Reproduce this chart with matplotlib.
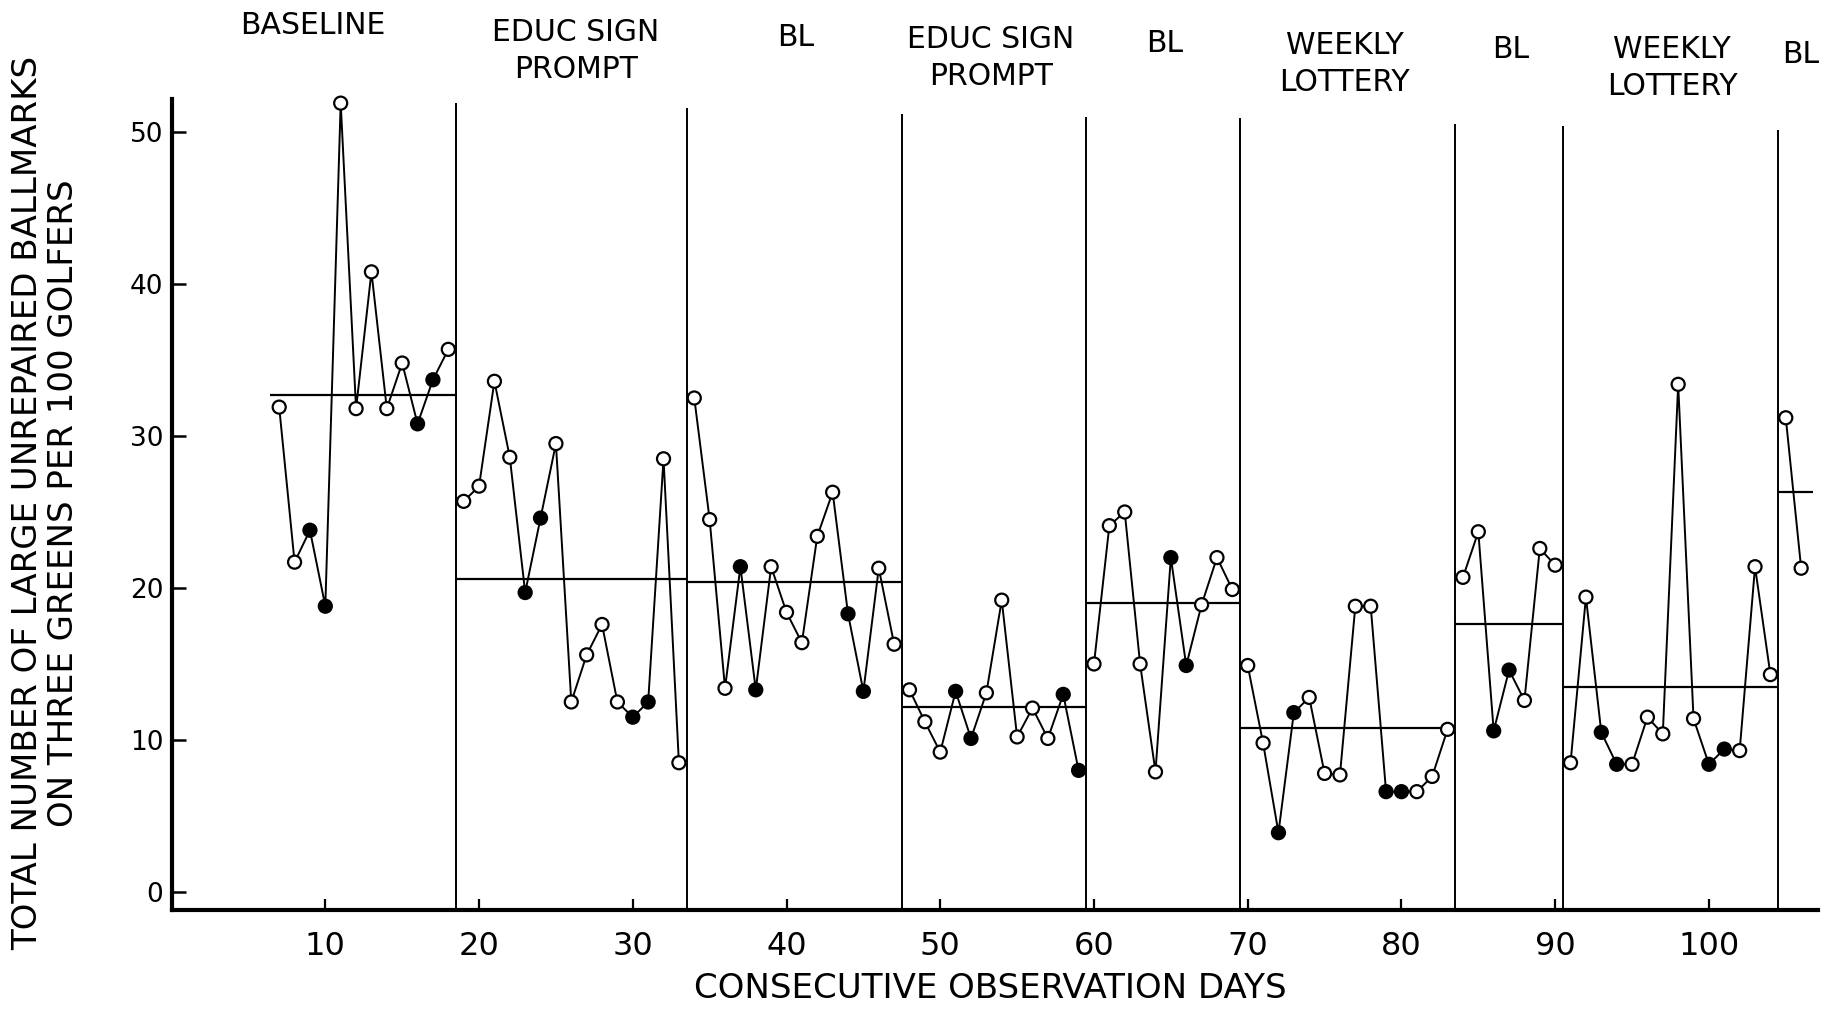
import matplotlib
matplotlib.use("Agg")
import matplotlib.pyplot as plt
import numpy as np

plt.rcParams["font.family"] = ["DejaVu Sans"]

# ---------------- data ----------------
phase_labels = ["BASELINE", "EDUC SIGN\nPROMPT", "BL", "EDUC SIGN\nPROMPT", "BL",
                "WEEKLY\nLOTTERY", "BL", "WEEKLY\nLOTTERY", "BL"]
phase_first_days = [7, 19, 34, 48, 60, 70, 84, 91, 105]
baseline_1 = [31.9, 21.7, 23.8, 18.8, 51.9, 31.8, 40.8, 31.8, 34.8, 30.8, 33.7, 35.7]
educ_sign_1 = [25.7, 26.7, 33.6, 28.6, 19.7, 24.6, 29.5, 12.5, 15.6, 17.6, 12.5, 11.5,
               12.5, 28.5, 8.5]
baseline_2 = [32.5, 24.5, 13.4, 21.4, 13.3, 21.4, 18.4, 16.4, 23.4, 26.3, 18.3, 13.2,
              21.3, 16.3]
educ_sign_2 = [13.3, 11.2, 9.2, 13.2, 10.1, 13.1, 19.2, 10.2, 12.1, 10.1, 13.0, 8.0]
baseline_3 = [15.0, 24.1, 25.0, 15.0, 7.9, 22.0, 14.9, 18.9, 22.0, 19.9]
lottery_1 = [14.9, 9.8, 3.9, 11.8, 12.8, 7.8, 7.7, 18.8, 18.8, 6.6, 6.6, 6.6, 7.6, 10.7]
baseline_4 = [20.7, 23.7, 10.6, 14.6, 12.6, 22.6, 21.5]
lottery_2 = [8.5, 19.4, 10.5, 8.4, 8.4, 11.5, 10.4, 33.4, 11.4, 8.4, 9.4, 9.3, 21.4, 14.3]
baseline_5 = [31.2, 21.3]
phase_values = [baseline_1, educ_sign_1, baseline_2, educ_sign_2, baseline_3,
                lottery_1, baseline_4, lottery_2, baseline_5]
phase_means = [32.7, 20.6, 20.4, 12.2, 19.0, 10.8, 17.6, 13.5, 26.3]
filled_days = [9, 10, 16, 17, 23, 24, 30, 31, 37, 38, 44, 45, 51, 52, 58, 59,
               65, 66, 72, 73, 79, 80, 86, 87, 93, 94, 100, 101]
x_ticks = [10, 20, 30, 40, 50, 60, 70, 80, 90, 100]
y_ticks = [0, 10, 20, 30, 40, 50]

# ---------------- layout ----------------
phase_line_tops = [51.9, 51.6, 51.2, 51.0, 50.9, 50.5, 50.4, 50.1]
header_x = [9.2, 26.3, 40.6, 53.3, 64.6, 76.3, 87.1, 97.6, 106.0]
header_y = [57.0, 55.35, 56.2, 54.9, 55.8, 54.5, 55.4, 54.2, 55.1]
Y_BOTTOM, Y_TOP = -1.2, 52.2
X_LEFT, X_RIGHT = 0.0, 107.1

fig = plt.figure(figsize=(18.45, 10.11), dpi=100)
ax = fig.add_axes([0.093, 0.0997, 0.8924, 0.8028])
ax.set_xlim(X_LEFT, X_RIGHT)
ax.set_ylim(Y_BOTTOM, Y_TOP)

for s in ["top", "right"]:
    ax.spines[s].set_visible(False)
for s in ["left", "bottom"]:
    ax.spines[s].set_linewidth(3.0)
    ax.spines[s].set_color("black")

# phase change lines
boundaries = [d - 0.5 for d in phase_first_days[1:]]
ax.vlines(boundaries, Y_BOTTOM, phase_line_tops, colors="black", linewidth=1.4, zorder=2)

# mean lines
last_days = [f + len(v) - 1 for f, v in zip(phase_first_days, phase_values)]
starts = [phase_first_days[0] - 0.6] + boundaries
ends = boundaries + [last_days[-1] + 0.75]
ax.hlines(phase_means, starts, ends, colors="black", linewidth=1.6, zorder=2)

# data
for first, vals in zip(phase_first_days, phase_values):
    days = np.arange(first, first + len(vals))
    ax.plot(days, vals, color="black", lw=1.4, zorder=3, clip_on=False)
    faces = ["black" if d in filled_days else "white" for d in days]
    ax.scatter(days, vals, s=88, facecolors=faces, edgecolors="black",
               linewidths=1.6, zorder=4, clip_on=False)

# headers
for lab, hx, hy in zip(phase_labels, header_x, header_y):
    ax.text(hx, hy, lab, ha="center", va="center", fontsize=21.5, linespacing=1.35,
            clip_on=False)

ax.set_xticks(x_ticks)
ax.set_xticklabels([str(t) for t in x_ticks])
ax.set_yticks(y_ticks)
ax.set_yticklabels([str(t) for t in y_ticks])
ax.tick_params(axis="x", direction="in", length=8, width=1.6, pad=15, labelsize=23)
ax.tick_params(axis="y", direction="in", length=10, width=1.8, pad=6, labelsize=19)

fig.text(0.5366, 0.0227, "CONSECUTIVE OBSERVATION DAYS", ha="center", va="center",
         fontsize=24.5)
fig.text(0.0247, 0.5025,
         "TOTAL NUMBER OF LARGE UNREPAIRED BALLMARKS\nON THREE GREENS PER 100 GOLFERS",
         ha="center", va="center", rotation=90, fontsize=24.5, linespacing=1.1,
         multialignment="center")

fig.savefig("out.png", dpi=100, facecolor="white")
